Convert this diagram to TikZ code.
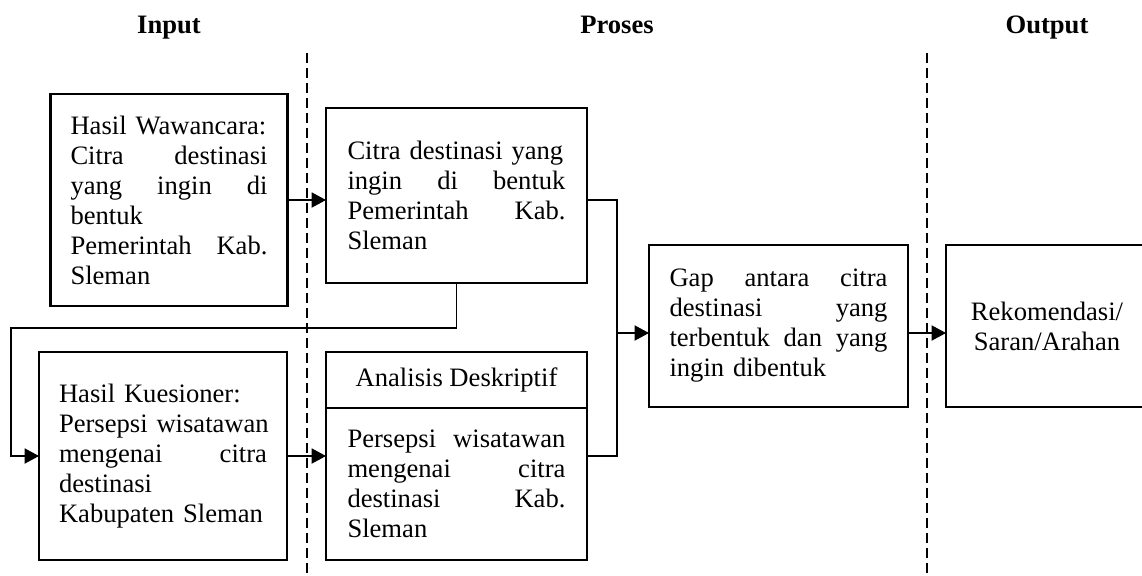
\documentclass[tikz,border=0pt]{standalone}
\usepackage{fontspec}
\setmainfont{Liberation Serif}
\usetikzlibrary{arrows.meta, positioning}

% one justified line of a box text (words split by \hfill)
\newcommand{\jl}[1]{\leavevmode\hbox to \linewidth{#1}}

\begin{document}
\begin{tikzpicture}[x=0.5pt, y=-0.5pt,
            font=\fontsize{13.3}{15}\selectfont,
            box/.style={rectangle, draw, line width=1.2pt, outer sep=0pt, inner sep=0pt, align=left},
            head/.style={font=\fontsize{13.3}{15}\selectfont\bfseries, anchor=base},
            link/.style={line width=0.6pt},
            arrow/.style={link, -{Triangle[length=7.2pt, width=7.6pt]}},
            divider/.style={dash pattern=on 5pt off 2.5pt, line width=0.6pt}
        ]
        \useasboundingbox (0,0) rectangle (1142,575);

        % Headings
        \node[head] (input) at (169,33) {Input};
        \node[head] (proses) at (617,33) {Proses};
        \node[head] (output) at (1047,33) {Output};

        % Column dividers
        \coordinate (div1top) at (307,53);
        \coordinate (div1bot) at (307,575);
        \coordinate (div2top) at (927,53);
        \coordinate (div2bot) at (927,575);
        \draw[divider] (div1top) -- (div1bot);
        \draw[divider] (div2top) -- (div2bot);

        % Nodes (manual layout to match figure)
        \node[box, minimum width=118.5pt, minimum height=106pt, text width=98.5pt] (wawancara) at (169,200)
            {\jl{Hasil Wawancara:}\\ \jl{Citra\hfill destinasi}\\ \jl{yang\hfill ingin\hfill di}\\ bentuk\\
             \jl{Pemerintah\hfill Kab.}\\ Sleman};
        \node[box, minimum width=130.5pt, minimum height=87.5pt, text width=109pt] (citra) at (456.5,195.5)
            {\jl{Citra destinasi yang}\\ \jl{ingin\hfill di\hfill bentuk}\\ \jl{Pemerintah\hfill Kab.}\\ Sleman};
        \node[box, minimum width=124pt, minimum height=104pt, text width=104pt] (kuesioner) at (163,456)
            {Hasil Kuesioner:\\ \jl{Persepsi wisatawan}\\ \jl{mengenai\hfill citra}\\ destinasi\\ Kabupaten Sleman};
        \node[box, minimum width=130.5pt, minimum height=28pt, align=center] (analisis) at (456.5,380)
            {Analisis Deskriptif};
        \node[box, minimum width=130.5pt, minimum height=76pt, text width=109pt, below=0pt of analisis] (persepsi)
            {\jl{Persepsi\hfill wisatawan}\\ \jl{mengenai\hfill citra}\\ \jl{destinasi\hfill Kab.}\\ Sleman};
        \node[box, minimum width=129.5pt, minimum height=81pt, text width=109pt] (gap) at (778.5,326)
            {\jl{Gap\hfill antara\hfill citra}\\ \jl{destinasi\hfill yang}\\ \jl{terbentuk\hfill dan\hfill yang}\\ ingin dibentuk};
        \node[box, minimum width=101pt, minimum height=81pt, align=center] (rekomendasi) at (1047,326)
            {Rekomendasi/\\ Saran/Arahan};

        % Edges
        \coordinate (back) at (11,328);
        \coordinate (join) at (617,333);

        \draw[arrow] (wawancara.east) -- (wawancara.east -| citra.west);
        \draw[arrow] (citra.south) |- (back) |- (kuesioner.west);
        \draw[arrow] (kuesioner.east) -- (kuesioner.east -| persepsi.west);

        \draw[link] (wawancara.east -| citra.east) -| (join) |- (kuesioner.east -| persepsi.east);
        \draw[arrow] (join) -- (join -| gap.west);
        \draw[arrow] (gap.east |- join) -- (join -| rekomendasi.west);

\end{tikzpicture}
\end{document}
